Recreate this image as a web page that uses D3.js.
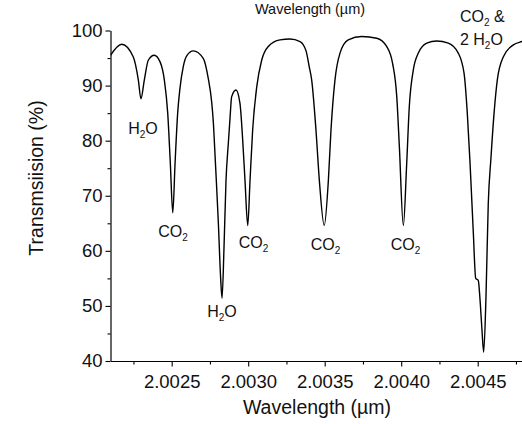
<!DOCTYPE html>
<html><head><meta charset="utf-8">
<script src="https://cdn.jsdelivr.net/npm/d3@7"></script>
<style>body{margin:0;background:#fff}svg{display:block;font-family:"Liberation Sans",Arial,sans-serif}</style>
</head><body><svg id="c" width="522" height="424"></svg>
<script>
// Wavelength (µm) and transmission (%)
const wavelength = [2.002100,2.002173,2.002249,2.002282,2.002299,2.002321,2.002347,2.002386,2.002424,2.002452,2.002474,2.002491,2.002507,2.002522,2.002539,2.002554,2.002576,2.002598,2.002641,2.002707,2.002739,2.002761,2.002772,2.002783,2.002793,2.002805,2.002820,2.002829,2.002842,2.002855,2.002870,2.002881,2.002892,2.002920,2.002946,2.002964,2.002979,2.002997,2.003012,2.003029,2.003056,2.003088,2.003131,2.003208,2.003273,2.003339,2.003378,2.003399,2.003415,2.003443,2.003465,2.003497,2.003524,2.003541,2.003567,2.003600,2.003654,2.003742,2.003840,2.003905,2.003944,2.003971,2.003988,2.004014,2.004036,2.004053,2.004079,2.004112,2.004167,2.004232,2.004308,2.004373,2.004411,2.004432,2.004450,2.004471,2.004487,2.004504,2.004515,2.004528,2.004539,2.004554,2.004569,2.004587,2.004607,2.004628,2.004667,2.004733,2.004790,2.004800];
const transmission = [95.5,97.5,95.2,91.0,87.6,91.0,94.6,95.5,94.3,91.0,85.0,75.9,66.9,75.9,85.0,89.5,93.5,95.4,96.3,94.9,91.3,87.1,83.4,77.5,72.0,65.0,55.0,51.4,60.7,72.8,79.5,84.0,88.0,89.2,86.8,80.1,72.8,64.6,72.8,81.9,89.8,94.6,97.1,98.3,98.45,98.0,96.3,93.4,91.0,81.9,72.8,64.6,72.8,81.9,91.0,95.9,98.3,98.9,98.6,97.1,94.0,88.0,78.9,64.6,75.9,86.2,92.8,95.9,97.7,98.1,97.7,95.9,92.2,85.0,75.9,63.5,55.0,54.6,51.2,45.6,41.6,51.5,68.5,77.0,85.0,91.0,95.2,97.4,98.0,98.1];

const xTicks = [2.0025,2.0030,2.0035,2.0040,2.0045];
const xMinorTicks = [2.00225,2.00275,2.00325,2.00375,2.00425,2.00475];
const yTicks = [40,50,60,70,80,90,100];
const yMinorTicks = [45,55,65,75,85,95];

// annotation labels: [main, subscript, rest], anchor wavelength, anchor transmission
const labelParts = [["H","2","O"],["CO","2",""],["H","2","O"],["CO","2",""],["CO","2",""],["CO","2",""]];
const labelWl = [2.002312,2.002509,2.002829,2.003035,2.003505,2.004028];
const labelVal = [81.2,62.6,47.9,60.45,60.1,60.1];

const svg = d3.select("#c");
const x = d3.scaleLinear().domain([2.0021,2.0048]).range([110.5,523.6]);
const y = d3.scaleLinear().domain([40,100]).range([361,30.5]);
const fmt = d3.format(".4f");

// y axis
svg.append("g").attr("transform","translate(110.5,0)")
  .call(d3.axisLeft(y).tickValues(yTicks).tickSize(5).tickPadding(3).tickSizeOuter(0));
svg.append("g").attr("transform","translate(110.5,0)")
  .call(d3.axisLeft(y).tickValues(yMinorTicks).tickSize(3).tickFormat("").tickSizeOuter(0))
  .select(".domain").remove();
// x axis
svg.append("g").attr("transform","translate(0,361)")
  .call(d3.axisBottom(x).tickValues(xTicks).tickFormat(fmt).tickSize(5.5).tickPadding(8).tickSizeOuter(0));
svg.append("g").attr("transform","translate(0,361)")
  .call(d3.axisBottom(x).tickValues(xMinorTicks).tickSize(3.5).tickFormat("").tickSizeOuter(0))
  .select(".domain").remove();

svg.selectAll(".domain").attr("stroke","#000").attr("stroke-width",1.2);
svg.selectAll(".tick line").attr("stroke","#000").attr("stroke-width",1.1);
svg.selectAll(".tick text").attr("font-family","Liberation Sans, Arial, sans-serif").attr("font-size",18.5).attr("fill","#111");

// curve
const pts = wavelength.map((w,i)=>[w,transmission[i]]);
svg.append("defs").append("clipPath").attr("id","clip").append("rect")
  .attr("x",110.5).attr("y",0).attr("width",412).attr("height",361);
svg.append("path").datum(pts)
  .attr("clip-path","url(#clip)")
  .attr("d",d3.line().x(d=>x(d[0])).y(d=>y(d[1])).curve(d3.curveMonotoneX))
  .attr("fill","none").attr("stroke","#000").attr("stroke-width",1.4);

// annotations
labelParts.forEach((p,i)=>{
  const t = svg.append("text").attr("x",x(labelWl[i])).attr("y",y(labelVal[i]))
    .attr("text-anchor","middle").attr("font-size",16).attr("fill","#111");
  t.append("tspan").text(p[0]);
  t.append("tspan").attr("font-size",10).attr("dy",4).text(p[1]);
  if (p[2]) t.append("tspan").attr("dy",-4).text(p[2]);
});
const t1 = svg.append("text").attr("x",x(2.004384)).attr("y",y(101.5)).attr("font-size",16).attr("fill","#111");
t1.append("tspan").text("CO");
t1.append("tspan").attr("font-size",10).attr("dy",4).text("2");
t1.append("tspan").attr("dy",-4).text(" &");
const t2 = svg.append("text").attr("x",x(2.004384)).attr("y",y(97.4)).attr("font-size",16).attr("fill","#111");
t2.append("tspan").text("2 H");
t2.append("tspan").attr("font-size",10).attr("dy",4).text("2");
t2.append("tspan").attr("dy",-4).text("O");

// axis titles
svg.append("text").attr("x",317).attr("y",414).attr("text-anchor","middle")
  .attr("font-size",19.5).attr("fill","#111").text("Wavelength (\u00B5m)");
svg.append("text").attr("x",310).attr("y",14).attr("text-anchor","middle")
  .attr("font-size",14.5).attr("fill","#111").text("Wavelength (\u00B5m)");
svg.append("text").attr("transform","translate(43,178) rotate(-90)").attr("text-anchor","middle")
  .attr("font-size",19.5).attr("fill","#111").text("Transmsiision (%)");
</script></body></html>
